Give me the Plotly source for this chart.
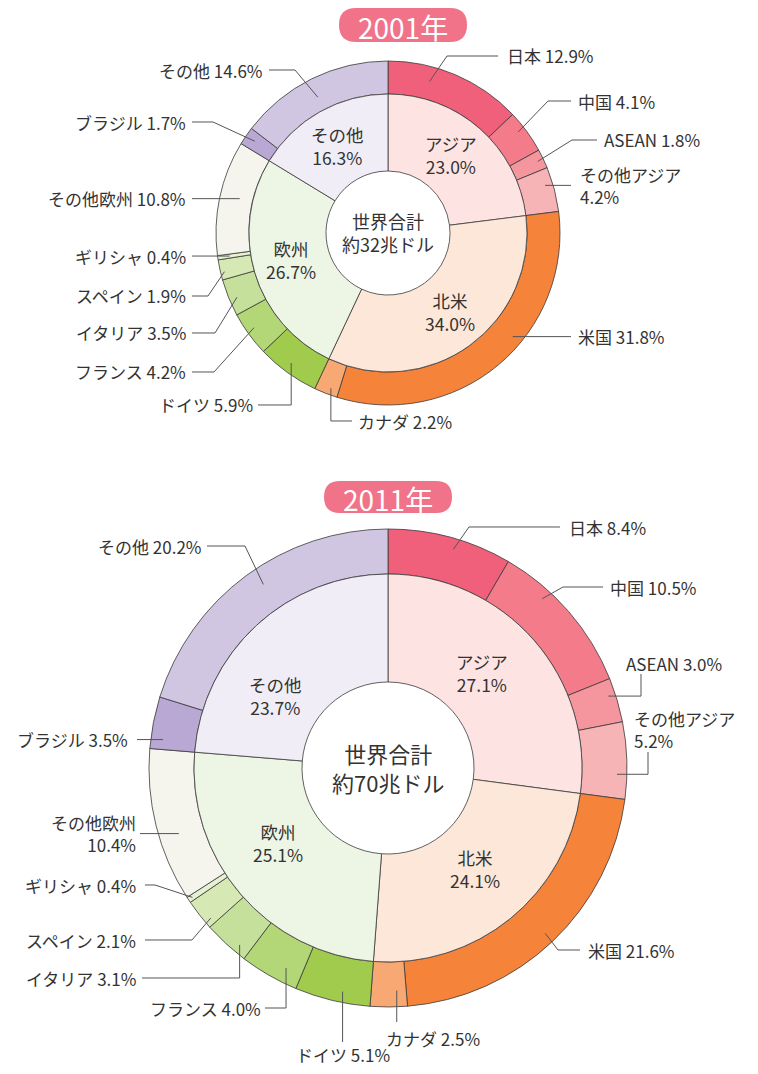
import math
import plotly.graph_objects as go

# The page body has an 8px default margin; size the figure so it fits the window.
PAGE_W, PAGE_H = 758, 1074
OFF = 8
W, H = PAGE_W - 2 * OFF, PAGE_H - 2 * OFF

# ---------------- data ----------------
regions = ["アジア", "北米", "欧州", "その他"]
inner_2001 = [23.0, 34.0, 26.7, 16.3]
inner_2011 = [27.1, 24.1, 25.1, 23.7]
countries = ["日本", "中国", "ASEAN", "その他アジア", "米国", "カナダ", "ドイツ",
             "フランス", "イタリア", "スペイン", "ギリシャ", "その他欧州", "ブラジル", "その他"]
outer_2001 = [12.9, 4.1, 1.8, 4.2, 31.8, 2.2, 5.9, 4.2, 3.5, 1.9, 0.4, 10.8, 1.7, 14.6]
outer_2011 = [8.4, 10.5, 3.0, 5.2, 21.6, 2.5, 5.1, 4.0, 3.1, 2.1, 0.4, 10.4, 3.5, 20.2]
years = ["2001年", "2011年"]
totals = ["約32兆ドル", "約70兆ドル"]

# ---------------- style ----------------
inner_colors = ["#fde3e1", "#fde7d9", "#edf5e4", "#f0edf6"]
outer_colors = ["#f0607a", "#f37b8a", "#f5969e", "#f7b4b6", "#f5833a", "#f8a872",
                "#a0cb4c", "#b3d777", "#c4e09a", "#d6e9b4", "#e6f1d2", "#f5f5ed",
                "#b9a8d3", "#d0c6e2"]
FONT = "Noto Sans CJK JP"
TXT = "#333333"
LINE = "#3a3a3a"
LEAD = "#555555"
LABEL_SIZE = 17
INNER_SIZE = 17.5

charts = [
    dict(cx=388, cy=233, rh=62, ri=139, ro=172, inner=inner_2001, outer=outer_2001,
         year=years[0], total=totals[0], badge=(339, 8, 467, 42), cfont=18,
         inner_frac=[0.47, 0.48, 0.51, 0.49], inner_rad=0.5,
         labels=[
             dict(f=0.33, r=0.55, t="dh", e=(447, 56), xe=498, lx=506, a="left"),
             dict(f=0.39, r=0.78, t="dh", e=(548, 101), xe=571, lx=577, a="left"),
             dict(f=0.50, r=0.82, t="dh", e=(572, 140), xe=597, lx=603, a="left"),
             dict(f=0.36, r=0.76, t="h", xe=571, lx=579, a="left", two=True),
             dict(f=0.41, r=0.70, t="h", xe=571, lx=577, a="left"),
             dict(f=0.37, r=0.80, t="vh", ey=421, xe=352, lx=357, a="left"),
             dict(f=0.54, r=0.70, t="vh", ey=405, xe=258, lx=254, a="right"),
             dict(f=0.55, r=0.76, t="dh", e=(214, 372), xe=192, lx=187, a="right"),
             dict(f=0.43, r=0.76, t="dh", e=(215, 333), xe=192, lx=187, a="right"),
             dict(f=0.37, r=0.88, t="dh", e=(208, 296), xe=192, lx=187, a="right"),
             dict(f=0.50, r=0.64, t="h", xe=192, lx=187, a="right"),
             dict(f=0.53, r=0.40, t="h", xe=192, lx=187, a="right"),
             dict(f=0.53, r=0.69, t="dh", e=(213, 122), xe=192, lx=187, a="right"),
             dict(f=0.48, r=0.42, t="dh", e=(295, 70), xe=269, lx=264, a="right"),
         ]),
    dict(cx=388, cy=768, rh=86, ri=194, ro=239, inner=inner_2011, outer=outer_2011,
         year=years[1], total=totals[1], badge=(324, 481, 452, 513), cfont=22,
         inner_frac=[0.46, 0.48, 0.57, 0.33], inner_rad=0.44,
         labels=[
             dict(f=0.55, r=0.76, t="dh", e=(469, 527), xe=560, lx=568, a="left"),
             dict(f=0.32, r=0.78, t="dh", e=(563, 587), xe=603, lx=609, a="left"),
             dict(f=0.36, r=0.84, t="hv", ex=641, ey=674, lx=625, ly=663, a="left"),
             dict(f=0.68, r=0.78, t="hv", ex=648, ey=752, lx=633, ly=729, a="left", two=True),
             dict(f=0.50, r=0.76, t="dh", e=(558, 950), xe=580, lx=587, a="left"),
             dict(f=0.27, r=0.64, t="v", ey=1022, lx=385, ly=1038, a="left"),
             dict(f=0.39, r=0.76, t="v", ey=1042, lx=295, ly=1054, a="left"),
             dict(f=0.30, r=0.68, t="vh", ey=1008, xe=265, lx=262, a="right"),
             dict(f=0.26, r=0.82, t="vh", ey=978, xe=142, lx=137, a="right"),
             dict(f=0.20, r=0.85, t="dh", e=(192, 940), xe=145, lx=137, a="right"),
             dict(f=0.50, r=0.90, t="dh", e=(155, 885), xe=145, lx=137, a="right"),
             dict(f=0.41, r=0.56, t="h", xe=140, lx=137, a="right", two=True),
             dict(f=0.20, r=0.73, t="h", xe=137, lx=129, a="right"),
             dict(f=0.53, r=0.62, t="dh", e=(245, 546), xe=207, lx=203, a="right"),
         ]),
]


def px(x):
    return (x - OFF) / W


def py(y):
    return 1 - (y - OFF) / H


fig = go.Figure()
shapes = []
annotations = []


def polar(c, pct, r):
    a = math.radians(pct * 3.6)
    return c["cx"] + r * math.sin(a), c["cy"] - r * math.cos(a)


def ann(text, x, y, size, anchor="center", color=TXT, align=None, pad=0):
    annotations.append(dict(
        text=text, x=px(x), y=py(y), xref="paper", yref="paper",
        xanchor=anchor, yanchor="middle", showarrow=False,
        align=align or anchor, borderpad=pad,
        font=dict(family=FONT, size=size, color=color)))


def seg(points):
    d = "M " + " L ".join(f"{px(x):.6f},{py(y):.6f}" for x, y in points)
    shapes.append(dict(type="path", path=d, xref="paper", yref="paper",
                       line=dict(color=LEAD, width=1), layer="above"))


for c in charts:
    cx, cy = c["cx"], c["cy"]
    for vals, names, cols, r, hole in [
        (c["outer"], countries, outer_colors, c["ro"], c["ri"] / c["ro"]),
        (c["inner"], regions, inner_colors, c["ri"], c["rh"] / c["ri"]),
    ]:
        fig.add_trace(go.Pie(
            values=vals, labels=names, sort=False, direction="clockwise", rotation=0,
            hole=hole, textinfo="none", hoverinfo="label+value", showlegend=False,
            marker=dict(colors=cols, line=dict(color=LINE, width=0.8)),
            domain=dict(x=[px(cx - r), px(cx + r)],
                        y=[py(cy + r), py(cy - r)])))

    # inner labels
    cum = 0
    for name, v, fr in zip(regions, c["inner"], c["inner_frac"]):
        pct = cum + v * fr
        rr = c["rh"] + c["inner_rad"] * (c["ri"] - c["rh"])
        x, y = polar(c, pct, rr)
        ann(f"{name}<br>{v:.1f}%", x, y, INNER_SIZE)
        cum += v

    # centre text
    ann(f"世界合計<br>{c['total']}", cx, cy - 1, c["cfont"])

    # outer labels with leader lines
    cum = 0
    for name, v, L in zip(countries, c["outer"], c["labels"]):
        pct = cum + v * L["f"]
        cum += v
        rr = c["ri"] + L["r"] * (c["ro"] - c["ri"])
        sx, sy = polar(c, pct, rr)
        t = L["t"]
        if t == "h":
            seg([(sx, sy), (L["xe"], sy)])
            ly = sy
        elif t == "dh":
            ex, ey = L["e"]
            seg([(sx, sy), (ex, ey), (L["xe"], ey)])
            ly = ey
        elif t == "vh":
            seg([(sx, sy), (sx, L["ey"]), (L["xe"], L["ey"])])
            ly = L["ey"]
        elif t == "hv":
            seg([(sx, sy), (L["ex"], sy), (L["ex"], L["ey"])])
            ly = L["ly"]
        else:  # "v"
            seg([(sx, sy), (sx, L["ey"])])
            ly = L["ly"]
        sep = "<br>" if L.get("two") else " "
        ann(f"{name}{sep}{v:.1f}%", L["lx"], ly, LABEL_SIZE, anchor=L["a"])

    # year badge (rounded rectangle)
    x0, y0, x1, y1 = c["badge"]
    rad = (y1 - y0) / 2
    pts = (f"M {px(x0 + rad)},{py(y0)} L {px(x1 - rad)},{py(y0)} "
           f"Q {px(x1)},{py(y0)} {px(x1)},{py(y0 + rad)} "
           f"Q {px(x1)},{py(y1)} {px(x1 - rad)},{py(y1)} "
           f"L {px(x0 + rad)},{py(y1)} "
           f"Q {px(x0)},{py(y1)} {px(x0)},{py(y0 + rad)} "
           f"Q {px(x0)},{py(y0)} {px(x0 + rad)},{py(y0)} Z")
    shapes.append(dict(type="path", path=pts, xref="paper", yref="paper",
                       fillcolor="#f07389", line=dict(width=0), layer="above"))
    ann(c["year"], (x0 + x1) / 2, (y0 + y1) / 2 + 2, 28, color="#ffffff")

fig.update_layout(
    width=W, height=H, margin=dict(l=0, r=0, t=0, b=0),
    paper_bgcolor="#ffffff", plot_bgcolor="#ffffff",
    shapes=shapes, annotations=annotations,
    font=dict(family=FONT, color=TXT),
)

fig.write_html("out.html")
